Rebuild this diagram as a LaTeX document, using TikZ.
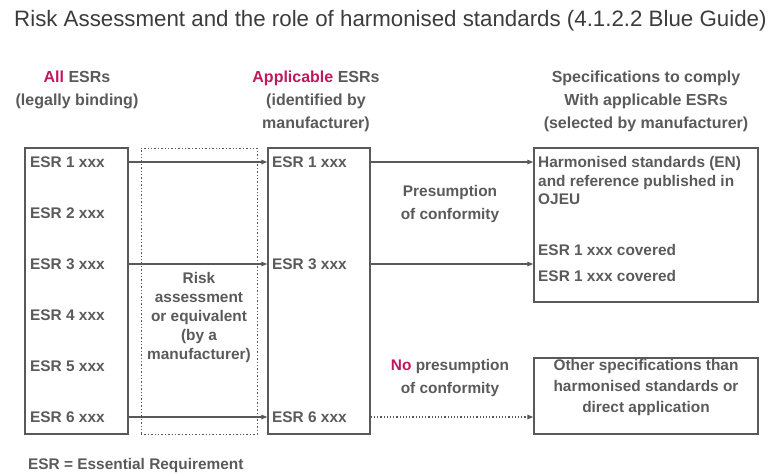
\documentclass[tikz,border=0pt]{standalone}
\usepackage{fontspec}
\setmainfont{Liberation Sans}
\usetikzlibrary{arrows.meta,positioning}
\definecolor{txtgray}{HTML}{5A5A5A}
\definecolor{titlegray}{HTML}{3C3C3C}
\definecolor{linegray}{HTML}{595959}
\definecolor{pinkred}{HTML}{C0185F}

\begin{document}
\begin{tikzpicture}[x=1pt,y=-1pt,>={Triangle[length=6pt,width=4.5pt]},
 box/.style={draw=linegray,line width=1.4pt,inner sep=0pt},
 lbl/.style={font=\fontsize{15.4}{19}\selectfont\bfseries,text=txtgray,inner sep=0pt},
 hd/.style={lbl,align=center,font=\fontsize{16}{23}\selectfont\bfseries},
 flow/.style={->,draw=linegray,line width=1.2pt}]
 \useasboundingbox (0,0) rectangle (771,475);
 \node[anchor=west,inner sep=0pt,text=titlegray,font=\fontsize{22.3}{26}\selectfont] (title) at (14,21)
  {Risk Assessment and the role of harmonised standards (4.1.2.2 Blue Guide)};
 % column headers
 \node[hd] (hall) at (77,89.5) {\textcolor{pinkred}{All} ESRs\\(legally binding)};
 \node[hd] (happ) at (316,101) {\textcolor{pinkred}{Applicable} ESRs\\(identified by\\manufacturer)};
 \node[hd] (hspec) at (646,101) {Specifications to comply\\With applicable ESRs\\(selected by manufacturer)};
 % boxes
 \node[box,minimum width=103pt,minimum height=286pt] (all) at (76.5,291) {};
 \node[box,draw=linegray,dotted,line width=1pt,minimum width=116pt,minimum height=286pt] (risk) at (199,291) {};
 \node[box,minimum width=102pt,minimum height=286pt] (app) at (319,291) {};
 \node[box,minimum width=224pt,minimum height=154pt] (hs) at (646,225) {};
 \node[box,minimum width=224pt,minimum height=76pt] (other) at (646,396) {};
 % ESR rows
 \foreach \i/\y in {1/162,2/213,3/264,4/315,5/366,6/417}
  \node[lbl,anchor=west] (e\i) at (30,\y) {ESR \i{} xxx};
 \foreach \i/\y in {1/162,3/264,6/417}
  \node[lbl,anchor=west] (a\i) at (272,\y) {ESR \i{} xxx};
 \node[lbl,align=center] (rtxt) at (199,318)
  {Risk\\assessment\\or equivalent\\(by a\\manufacturer)};
 % right box texts
 \node[lbl,anchor=west,align=left,font=\fontsize{15.4}{18.5}\selectfont\bfseries] (hstxt) at (538,180.5)
  {Harmonised standards (EN)\\and reference published in\\OJEU};
 \node[lbl,anchor=west] (c1) at (538,250) {ESR 1 xxx covered};
 \node[lbl,anchor=west] (c2) at (538,276) {ESR 1 xxx covered};
 \node[lbl,align=center,font=\fontsize{15.4}{21}\selectfont\bfseries] (otxt) at (646,388)
  {Other specifications than\\harmonised standards or\\direct application};
 \node[lbl,align=center,font=\fontsize{15.4}{23}\selectfont\bfseries] (pres) at (450,204.5) {Presumption\\of conformity};
 \node[lbl,align=center,font=\fontsize{15.4}{23}\selectfont\bfseries] (nopres) at (450,378.5) {\textcolor{pinkred}{No} presumption\\of conformity};
 % arrows
 \draw[flow] (e1 -| all.east) -- (a1 -| app.west);
 \draw[flow] (e3 -| all.east) -- (a3 -| app.west);
 \draw[flow] (e6 -| all.east) -- (a6 -| app.west);
 \draw[flow] (a1 -| app.east) -- (a1 -| hs.west);
 \draw[flow] (a3 -| app.east) -- (a3 -| hs.west);
 \draw[flow,dotted] (a6 -| app.east) -- (a6 -| other.west);
 \node[lbl,anchor=west] (note) at (28,466) {ESR = Essential Requirement};
\end{tikzpicture}
\end{document}
